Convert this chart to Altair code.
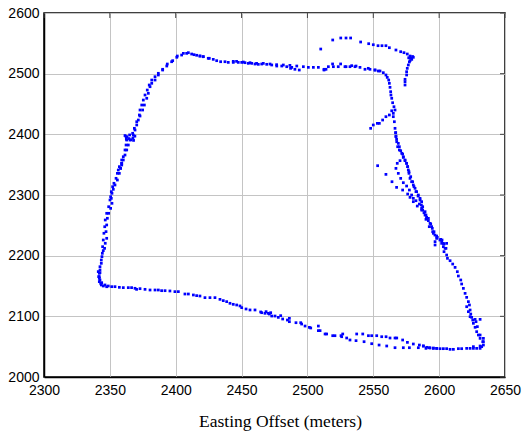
import altair as alt
import pandas as pd

# ---- data (Easting, Northing offsets in meters) ----
left_a_x = [2359.0, 2359.0, 2357.2, 2356.4, 2355.7, 2354.7, 2353.1, 2352.1, 2351.1, 2350.6, 2350.1,
            2349.1, 2347.6, 2346.5, 2346.1, 2345.5, 2345.0, 2344.5, 2344.3, 2343.5, 2342.5, 2342.0,
            2342.0, 2343.0, 2345.0, 2347.6]
left_a_y = [2357.7, 2352.2, 2346.7, 2341.2, 2335.7, 2327.5, 2319.3, 2313.7, 2305.5, 2297.2, 2291.8,
            2280.7, 2269.8, 2258.8, 2247.7, 2236.9, 2225.8, 2214.8, 2203.9, 2192.9, 2181.8, 2170.9,
            2162.7, 2154.4, 2150.0, 2148.8]

left_b_x = [2358.2, 2357.2, 2355.7, 2353.9, 2352.6, 2351.6, 2351.1, 2351.6, 2350.6, 2349.1, 2348.1,
            2347.6, 2347.1, 2347.6, 2346.5, 2346.0, 2345.0, 2344.0, 2343.5, 2342.5, 2341.5, 2342.0,
            2343.5]
left_b_y = [2344.0, 2335.7, 2324.7, 2316.5, 2309.4, 2302.8, 2294.5, 2286.3, 2278.0, 2269.8, 2261.6,
            2250.6, 2239.6, 2228.6, 2220.4, 2212.1, 2208.3, 2198.4, 2187.4, 2176.4, 2165.4, 2157.2,
            2151.7]

upper_a_x = [2358.2, 2359.0, 2360.2, 2361.5, 2362.3, 2362.8, 2362.3, 2367.8, 2369.1, 2370.4, 2371.6,
             2372.4, 2372.9, 2374.2, 2375.4, 2376.7, 2378.4, 2379.9, 2381.8, 2384.3, 2386.8, 2390.1,
             2393.2, 2396.9, 2400.8, 2404.5, 2408.3, 2412.1, 2415.9, 2420.9, 2424.7]
upper_a_y = [2344.0, 2352.2, 2363.1, 2374.2, 2382.4, 2390.6, 2396.1, 2398.9, 2407.1, 2415.4, 2423.6,
             2431.9, 2440.1, 2448.3, 2456.5, 2464.8, 2473.0, 2481.3, 2489.5, 2495.0, 2500.6, 2506.0,
             2512.6, 2519.7, 2527.0, 2530.7, 2533.5, 2532.4, 2530.3, 2528.0, 2525.3]

upper_b_x = [2359.0, 2360.2, 2361.5, 2362.8, 2364.0, 2365.3, 2367.3, 2368.6, 2370.4, 2372.9, 2374.9,
             2376.2, 2378.0, 2379.2, 2380.5, 2381.8, 2384.3, 2386.8, 2390.1, 2393.6, 2397.7, 2401.2,
             2405.8, 2409.6, 2413.9, 2418.4]
upper_b_y = [2349.4, 2357.7, 2365.9, 2374.2, 2382.4, 2390.6, 2401.7, 2409.9, 2420.8, 2430.2, 2440.1,
             2448.3, 2459.4, 2467.6, 2478.5, 2484.1, 2489.5, 2497.8, 2507.2, 2515.9, 2521.4, 2529.1,
             2533.5, 2534.6, 2531.3, 2529.1]

knot_x = [2361.5, 2363.0, 2364.5, 2366.0, 2367.5, 2369.0, 2362.5, 2365.0, 2368.0]
knot_y = [2398.0, 2396.0, 2393.0, 2391.0, 2394.0, 2397.0, 2392.0, 2399.0, 2390.0]

top_a_x = [2418.4, 2420.9, 2425.5, 2428.5, 2431.1, 2434.1, 2437.4, 2439.9, 2443.7, 2447.5, 2450.1,
           2452.6, 2455.1, 2457.7, 2460.2, 2462.7, 2465.3, 2469.1, 2472.9, 2476.7, 2480.5, 2484.3,
           2488.1, 2491.9, 2496.9, 2500.7, 2504.5, 2508.3, 2512.6, 2515.9, 2519.7, 2523.4, 2528.5,
           2532.3, 2536.1, 2539.9, 2543.7, 2547.5, 2551.3, 2553.8]
top_a_y = [2529.1, 2528.0, 2525.3, 2523.6, 2521.4, 2519.7, 2519.7, 2518.6, 2518.6, 2518.6, 2518.6,
           2518.1, 2517.0, 2517.0, 2515.9, 2515.4, 2515.9, 2515.4, 2514.3, 2512.6, 2512.6, 2511.5,
           2510.4, 2512.6, 2511.5, 2510.4, 2510.4, 2510.4, 2507.2, 2511.5, 2511.5, 2511.5, 2511.5,
           2511.5, 2511.5, 2510.4, 2507.2, 2507.2, 2506.0, 2504.4]

top_b_x = [2443.7, 2446.2, 2451.3, 2456.4, 2461.4, 2466.5, 2471.6, 2476.6, 2481.7, 2486.7, 2487.2,
           2490.5, 2493.8, 2512.6, 2514.1, 2519.1, 2525.2, 2529.3, 2533.6, 2536.9, 2546.2]
top_b_y = [2520.3, 2520.3, 2519.2, 2518.1, 2517.0, 2517.0, 2515.9, 2514.8, 2514.3, 2513.7, 2508.8,
           2507.2, 2506.0, 2506.0, 2507.2, 2516.0, 2516.0, 2511.5, 2513.2, 2512.6, 2508.8]

excursion_x = [2510.1, 2519.2, 2525.3, 2529.3, 2532.8, 2540.4, 2546.5, 2550.0, 2553.6, 2556.6, 2559.6,
               2562.2, 2567.2, 2570.8, 2573.3, 2575.8, 2577.9, 2580.4, 2579.2, 2577.9, 2577.4, 2576.6,
               2575.8, 2575.3, 2575.3, 2574.1, 2574.1, 2574.1, 2578.6, 2579.8, 2576.9]
excursion_y = [2540.6, 2555.5, 2558.8, 2558.8, 2558.8, 2552.2, 2549.4, 2547.7, 2546.1, 2546.1, 2546.1,
               2542.8, 2539.0, 2536.2, 2534.6, 2532.4, 2529.1, 2527.0, 2523.6, 2521.4, 2519.3, 2514.3,
               2508.8, 2503.2, 2497.8, 2490.7, 2486.7, 2481.3, 2525.5, 2528.3, 2526.2]

right_a_x = [2551.3, 2555.1, 2557.6, 2559.6, 2560.6, 2561.7, 2562.2, 2562.7, 2563.2, 2563.4, 2564.0,
             2564.7, 2565.7, 2566.5, 2565.2, 2565.2, 2566.0, 2566.5, 2567.0, 2567.2, 2567.8, 2568.5,
             2569.8, 2571.6, 2572.8, 2574.1, 2575.3, 2576.1, 2577.1, 2578.4, 2579.9, 2580.9, 2582.4,
             2584.0, 2585.5, 2586.5, 2587.5, 2589.3, 2590.6]
right_a_y = [2506.0, 2504.4, 2501.6, 2497.8, 2493.9, 2489.5, 2484.1, 2477.5, 2470.3, 2464.8, 2459.4,
             2452.1, 2445.5, 2440.1, 2434.6, 2429.1, 2420.8, 2409.9, 2402.7, 2396.1, 2387.8, 2379.6,
             2374.2, 2368.7, 2363.1, 2357.7, 2352.2, 2346.7, 2338.4, 2330.2, 2321.9, 2313.7, 2305.5,
             2298.3, 2291.8, 2283.5, 2275.3, 2267.0, 2261.6]

spur_x = [2548.0, 2550.0, 2553.1, 2554.6, 2557.1, 2559.6, 2562.2, 2564.0]
spur_y = [2409.9, 2415.4, 2418.1, 2418.1, 2423.6, 2429.1, 2431.9, 2438.8]

right_b_x = [2567.0, 2567.2, 2567.7, 2569.0, 2569.8, 2570.8, 2572.3, 2572.8, 2574.1, 2575.3, 2576.1,
             2576.6, 2577.1, 2577.9, 2579.1, 2580.4, 2581.7, 2582.9, 2584.2, 2585.5, 2586.7, 2587.5,
             2589.3, 2590.0, 2591.8, 2593.1, 2594.3, 2595.1, 2596.8, 2598.1, 2600.6, 2601.9, 2603.2,
             2605.2]
right_b_y = [2402.7, 2397.2, 2391.7, 2385.1, 2379.6, 2373.0, 2367.5, 2362.0, 2356.6, 2352.2, 2346.7,
             2341.2, 2335.7, 2327.4, 2321.9, 2316.5, 2311.0, 2305.5, 2300.0, 2294.5, 2289.0, 2280.7,
             2272.5, 2267.0, 2261.5, 2253.3, 2247.8, 2239.5, 2234.0, 2228.5, 2225.8, 2220.3, 2214.8,
             2212.1]

right_c_x = [2570.3, 2568.2, 2567.2, 2569.0, 2570.8, 2572.8, 2575.3, 2577.4, 2579.1, 2580.4, 2582.4,
             2585.0, 2586.7, 2588.5, 2590.5, 2591.8, 2593.6, 2594.8, 2596.1, 2598.1, 2601.2, 2603.2]
right_c_y = [2356.6, 2352.2, 2343.9, 2335.7, 2327.4, 2320.3, 2314.8, 2308.2, 2300.0, 2294.5, 2290.6,
             2285.1, 2278.0, 2270.8, 2263.2, 2257.7, 2252.2, 2245.0, 2239.5, 2232.4, 2226.9, 2220.3]

right_d_x = [2553.3, 2559.6, 2564.2, 2567.7, 2572.3, 2576.1, 2577.9, 2580.4, 2583.4, 2586.7, 2590.0,
             2592.5, 2595.6, 2598.6, 2602.2, 2605.7]
right_d_y = [2348.3, 2334.0, 2321.9, 2312.6, 2308.2, 2301.6, 2296.1, 2289.0, 2281.8, 2275.2, 2259.9,
             2247.8, 2236.8, 2230.2, 2225.8, 2220.3]

corner_a_x = [2596.9, 2596.9, 2601.9, 2603.7, 2604.5, 2603.7, 2605.7, 2606.3, 2608.3, 2610.3, 2612.1,
              2613.8, 2614.6, 2616.4, 2617.1, 2618.4, 2619.7, 2620.9, 2622.2, 2623.0, 2623.5, 2624.0,
              2624.7, 2625.5, 2626.0, 2627.3, 2628.5, 2629.8, 2631.1, 2633.1, 2633.6, 2632.3, 2631.1,
              2628.5, 2626.0, 2623.5]
corner_a_y = [2223.1, 2217.6, 2224.7, 2219.2, 2212.1, 2206.6, 2201.1, 2195.6, 2191.7, 2186.2, 2180.7,
              2173.6, 2166.5, 2159.9, 2153.3, 2146.1, 2137.9, 2131.3, 2124.2, 2118.7, 2110.4, 2103.8,
              2098.3, 2093.9, 2088.5, 2081.9, 2074.7, 2069.2, 2063.7, 2058.2, 2052.7, 2050.0, 2047.2,
              2047.2, 2047.2, 2047.2]

corner_b_x = [2620.9, 2622.2, 2623.5, 2627.3, 2631.1, 2628.0, 2629.0, 2631.1, 2633.6, 2633.6, 2631.1,
              2626.0]
corner_b_y = [2115.9, 2107.7, 2099.4, 2095.0, 2095.0, 2091.2, 2083.0, 2069.2, 2063.7, 2058.2, 2051.1,
              2050.0]

bottom_right_x = [2620.9, 2617.1, 2614.6, 2610.8, 2608.3, 2605.7, 2603.2, 2600.7, 2598.2, 2595.6,
                  2593.1, 2590.6, 2588.0]
bottom_right_y = [2047.2, 2046.7, 2046.7, 2045.6, 2045.6, 2046.7, 2046.7, 2046.7, 2047.2, 2047.8,
                  2047.8, 2048.9, 2051.1]

bottom_left_x = [2341.2, 2342.5, 2342.0, 2342.5, 2343.8, 2346.3, 2348.8, 2351.4, 2353.9, 2357.2,
                 2360.2, 2364.0, 2366.5, 2369.1, 2370.3, 2372.9, 2376.7, 2380.5, 2384.3, 2386.8,
                 2389.3, 2391.9, 2395.6, 2399.4, 2402.0, 2407.0, 2409.6, 2413.4, 2415.9, 2418.4,
                 2422.2, 2426.0, 2429.8, 2433.6, 2436.1, 2438.7, 2441.2, 2443.7, 2446.3, 2448.8,
                 2450.1, 2453.4, 2456.4, 2460.2, 2464.5, 2467.8, 2470.3]
bottom_left_y = [2173.7, 2172.0, 2165.4, 2159.9, 2155.5, 2151.7, 2150.0, 2148.9, 2148.9, 2147.8,
                 2147.3, 2147.3, 2147.3, 2146.2, 2144.5, 2145.6, 2144.5, 2143.4, 2143.4, 2143.4,
                 2142.3, 2142.3, 2141.8, 2140.7, 2140.7, 2136.8, 2136.8, 2135.2, 2134.1, 2133.5,
                 2130.8, 2130.8, 2130.8, 2128.0, 2125.9, 2124.2, 2121.5, 2119.8, 2118.7, 2117.1,
                 2114.3, 2112.1, 2110.5, 2110.5, 2107.2, 2105.0, 2105.0]

bottom_mid_x = [2465.3, 2468.6, 2471.1, 2472.1, 2472.9, 2475.4, 2477.9, 2479.7, 2481.2, 2484.8, 2486.3,
                2486.3, 2491.3, 2494.9, 2495.6, 2498.2, 2501.5, 2502.5, 2508.3, 2508.3, 2509.6, 2513.4,
                2514.6, 2519.2, 2520.9, 2525.5, 2526.8, 2526.0, 2529.8, 2532.3, 2537.4, 2542.0, 2546.3,
                2548.8, 2552.6, 2556.4, 2559.7, 2562.7, 2566.5, 2567.8, 2572.3, 2575.9, 2580.4, 2585.0,
                2588.0, 2590.0, 2592.6, 2595.6, 2598.1]
bottom_mid_y = [2106.0, 2107.7, 2103.8, 2106.0, 2100.5, 2100.5, 2098.3, 2101.1, 2095.6, 2093.9, 2096.7,
                2091.2, 2089.5, 2089.5, 2087.3, 2084.0, 2081.8, 2080.8, 2084.0, 2076.4, 2076.4, 2070.9,
                2070.9, 2068.1, 2068.1, 2068.1, 2070.9, 2066.4, 2064.3, 2061.0, 2070.9, 2070.9, 2068.1,
                2068.1, 2068.1, 2066.4, 2066.4, 2064.3, 2064.3, 2064.3, 2061.0, 2057.1, 2054.4, 2052.7,
                2051.1, 2047.2, 2048.3, 2047.2, 2047.2]

bottom_low_x = [2536.9, 2543.0, 2548.8, 2554.4, 2560.2, 2566.5, 2572.8, 2577.4, 2584.2]
bottom_low_y = [2059.9, 2058.2, 2054.9, 2052.7, 2051.1, 2048.3, 2048.3, 2048.3, 2048.3]

x_ticks = [2300, 2350, 2400, 2450, 2500, 2550, 2600, 2650]
y_ticks = [2000, 2100, 2200, 2300, 2400, 2500, 2600]

segments = [
    (left_a_x, left_a_y), (left_b_x, left_b_y), (upper_a_x, upper_a_y), (upper_b_x, upper_b_y),
    (knot_x, knot_y), (top_a_x, top_a_y), (top_b_x, top_b_y), (excursion_x, excursion_y),
    (right_a_x, right_a_y), (spur_x, spur_y), (right_b_x, right_b_y), (right_c_x, right_c_y),
    (right_d_x, right_d_y), (corner_a_x, corner_a_y), (corner_b_x, corner_b_y),
    (bottom_right_x, bottom_right_y), (bottom_left_x, bottom_left_y),
    (bottom_mid_x, bottom_mid_y), (bottom_low_x, bottom_low_y),
]
east, north = [], []
for xs, ys in segments:
    east += xs
    north += ys
df = pd.DataFrame({"east": east, "north": north})

W, H = 461, 364
xscale = alt.Scale(domain=[2300, 2650], nice=False, zero=False)
yscale = alt.Scale(domain=[2000, 2600], nice=False, zero=False)

points = alt.Chart(df).mark_square(size=7.5, color="#0000ff", opacity=1, strokeWidth=0).encode(
    x=alt.X("east:Q", scale=xscale,
            axis=alt.Axis(values=x_ticks, title="Easting Offset (meters)", format="d",
                          grid=True, gridColor="#c4c4c4", gridWidth=1, ticks=False,
                          domainColor="black", domainWidth=1.5,
                          labelFont="Liberation Sans", labelFontSize=14, labelColor="black",
                          labelPadding=6, labelFlush=False, labelOverlap=False,
                          titleFont="Liberation Serif", titleFontSize=17.5, titleFontWeight="normal",
                          titleColor="black", titleX=236, titleY=49, titleBaseline="alphabetic",
                          titleAlign="center")),
    y=alt.Y("north:Q", scale=yscale,
            axis=alt.Axis(values=y_ticks, title=None, format="d",
                          grid=True, gridColor="#c4c4c4", gridWidth=1, ticks=False,
                          domainColor="black", domainWidth=1.5,
                          labelFont="Liberation Sans", labelFontSize=14, labelColor="black",
                          labelPadding=5, labelFlush=False, labelOverlap=False)),
)

tick_df_x = pd.DataFrame({"t": x_ticks})
tick_df_y = pd.DataFrame({"t": y_ticks})
top_ticks = alt.Chart(tick_df_x).mark_rule(color="#444444", strokeWidth=1).encode(
    x=alt.X("t:Q", scale=xscale), y=alt.value(0), y2=alt.value(5))
right_ticks = alt.Chart(tick_df_y).mark_rule(color="#444444", strokeWidth=1).encode(
    y=alt.Y("t:Q", scale=yscale), x=alt.value(W), x2=alt.value(W - 5))

chart = alt.layer(points, top_ticks, right_ticks).properties(
    width=W, height=H,
    autosize=alt.AutoSizeParams(type="none"),
    padding={"left": 44, "top": 13, "right": 17, "bottom": 62},
    background="white",
).configure_view(stroke="black", strokeWidth=1.5)

chart.save("out.html", embed_options={"renderer": "svg", "actions": False})
